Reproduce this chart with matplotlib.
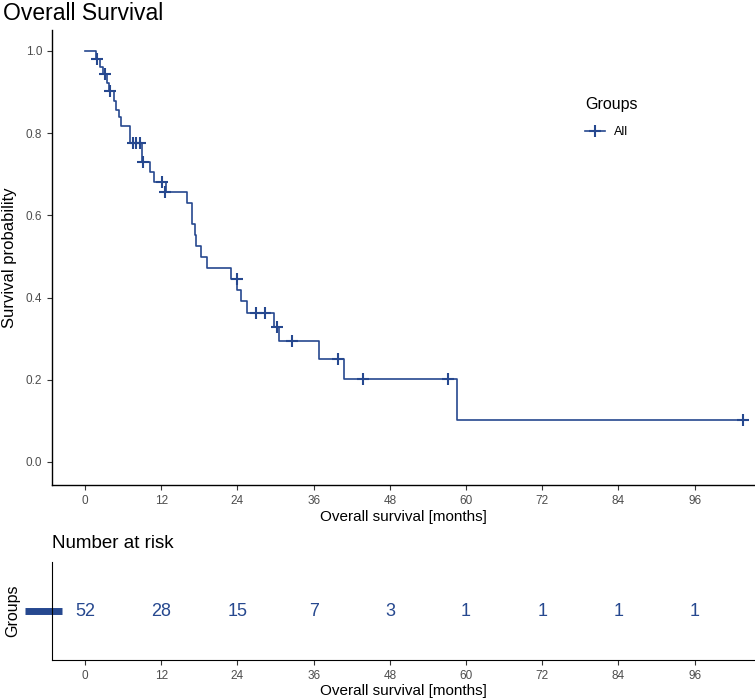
import numpy as np
import matplotlib.pyplot as plt
from matplotlib.lines import Line2D

plt.rcParams['font.family'] = ['Liberation Sans', 'DejaVu Sans']

# Kaplan-Meier steps (months, survival after step)
step_t = [0, 1.8, 2.3, 2.8, 3.5, 3.8, 4.5, 4.8, 5.3, 5.6, 7.1, 8.9, 10.2, 10.8,
          12.7, 16.0, 16.9, 17.3, 17.5, 18.3, 19.2, 23.0, 23.9, 24.6, 25.5,
          29.7, 30.55, 36.85, 40.8, 58.5]
step_s = [1.0, 0.981, 0.962, 0.943, 0.922, 0.903, 0.879, 0.856, 0.839, 0.818,
          0.777, 0.731, 0.706, 0.682, 0.656, 0.631, 0.578, 0.552, 0.526, 0.4995,
          0.473, 0.445, 0.4185, 0.392, 0.363, 0.329, 0.294, 0.251, 0.202, 0.101]
t_end = 103.6

# censored observations
cens_t = [1.9, 3.2, 3.9, 7.5, 8.1, 8.6, 9.1, 12.2, 12.6, 23.9, 26.9, 28.3,
          30.3, 32.6, 39.9, 43.7, 57.2, 103.6]
cens_s = [0.981, 0.943, 0.903, 0.777, 0.777, 0.777, 0.731, 0.682, 0.656, 0.445,
          0.363, 0.363, 0.329, 0.294, 0.251, 0.202, 0.202, 0.101]

risk_t = [0, 12, 24, 36, 48, 60, 72, 84, 96]
risk_n = [52, 28, 15, 7, 3, 1, 1, 1, 1]

col = '#26488F'
tick_col = '#4D4D4D'
xlim = (-5.2, 105.5)

fig = plt.figure(figsize=(7.55, 7.0), dpi=100)

# main survival plot
ax = fig.add_axes([52/755, 1-485/700, 1-52/755, 455/700])
ax.step(step_t + [t_end], step_s + [step_s[-1]], where='post', color=col, lw=1.2)
ax.plot(cens_t, cens_s, ls='none', marker='+', ms=9, mew=1.5, color=col)
ax.set_xlim(*xlim)
ax.set_ylim(-0.056, 1.051)
ax.set_xticks(risk_t)
ax.set_yticks([0, 0.2, 0.4, 0.6, 0.8, 1.0])
ax.set_yticklabels(['0.0', '0.2', '0.4', '0.6', '0.8', '1.0'])
ax.set_xlabel('Overall survival [months]', fontsize=11, labelpad=2)
ax.set_ylabel('Survival probability', fontsize=12, labelpad=6)
for s in ['top', 'right']:
    ax.spines[s].set_visible(False)
for s in ['left', 'bottom']:
    ax.spines[s].set_linewidth(1.0)
ax.tick_params(labelsize=8.5, labelcolor=tick_col, color='#333333', length=3.5)
fig.text(3/755, 1-14/700, 'Overall Survival', fontsize=16.5, va='center', ha='left')

leg_handle = Line2D([], [], color=col, lw=1.2, marker='+', ms=9, mew=1.5)
leg = ax.legend([leg_handle], ['All'], title='Groups', frameon=False,
                loc='upper left', bbox_to_anchor=(574/755, 1-86/700),
                bbox_transform=fig.transFigure, fontsize=9, title_fontsize=11.5,
                alignment='left', handlelength=1.6, handletextpad=0.7,
                labelspacing=1.1)

# number at risk table
rax = fig.add_axes([52/755, 1-660/700, 1-52/755, 98/700])
for t, n in zip(risk_t, risk_n):
    rax.text(t, 0.5, str(n), color=col, fontsize=13, ha='center', va='center')
rax.set_xlim(*xlim)
rax.set_ylim(0, 1)
rax.set_xticks(risk_t)
rax.set_yticks([])
rax.set_xlabel('Overall survival [months]', fontsize=11, labelpad=2)
rax.set_ylabel('Groups', fontsize=11.5, labelpad=23)
for s in ['top', 'right']:
    rax.spines[s].set_visible(False)
rax.tick_params(labelsize=8.5, labelcolor=tick_col, color='#333333', length=3.5)
rax.plot([-27/703, 10/703], [0.5, 0.5], transform=rax.transAxes, color=col,
         lw=5, solid_capstyle='butt', clip_on=False)
fig.text(52/755, 1-544/700, 'Number at risk', fontsize=13.5, va='center', ha='left')

fig.savefig('out.png', dpi=100)
